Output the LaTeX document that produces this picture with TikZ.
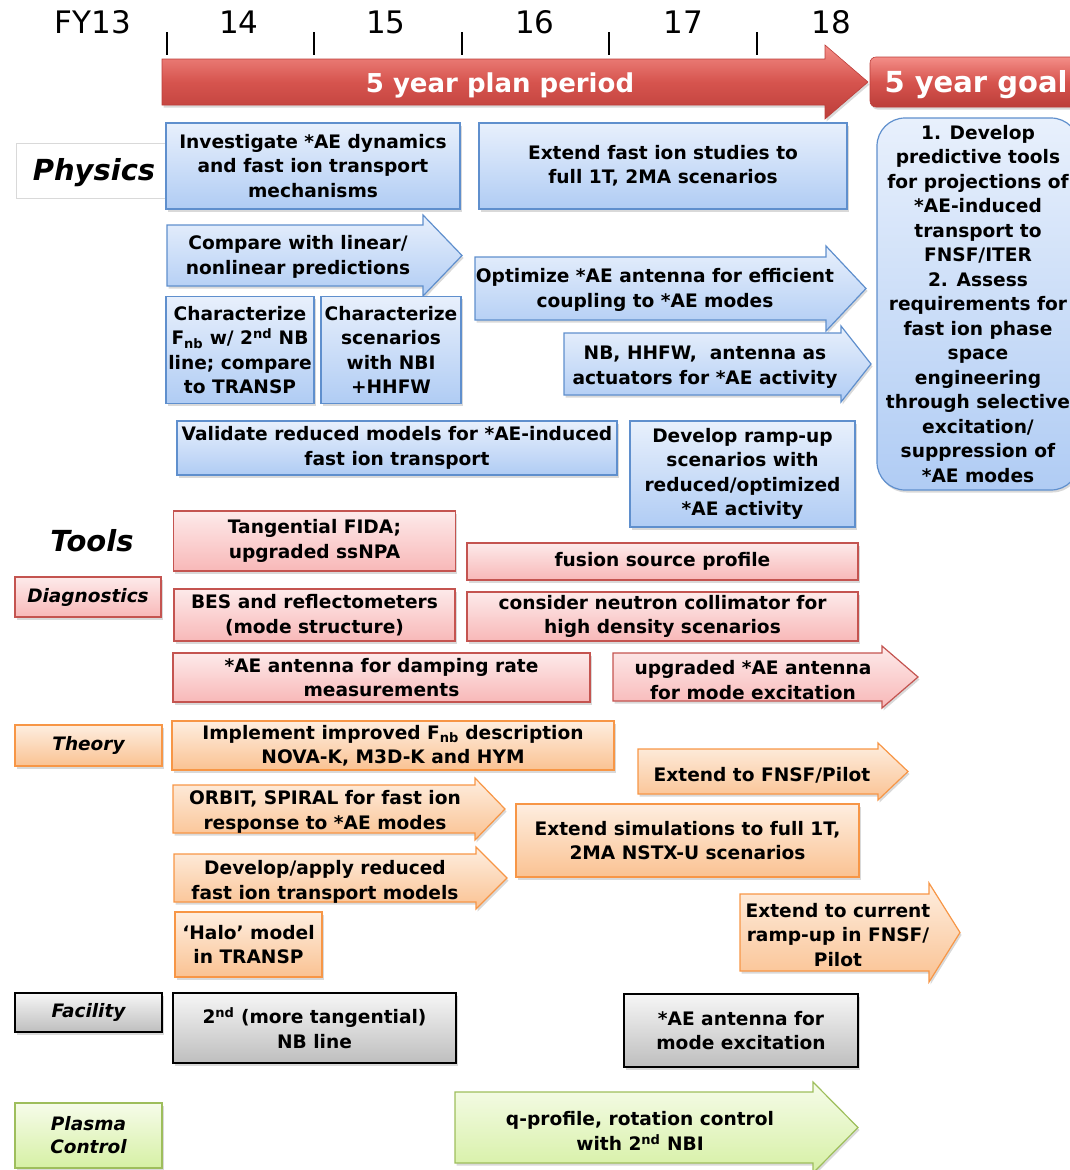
\documentclass[tikz,border=0pt]{standalone}
\usepackage{fontspec}
\setmainfont{DejaVu Sans}[ItalicFont={DejaVu Sans Oblique},BoldItalicFont={DejaVu Sans Bold Oblique}]
\usetikzlibrary{shadows}

\definecolor{physline}{RGB}{95,143,205}
\definecolor{phystop}{RGB}{232,240,252}
\definecolor{physbot}{RGB}{176,204,244}
\definecolor{diagline}{RGB}{196,84,80}
\definecolor{diagtop}{RGB}{253,234,234}
\definecolor{diagbot}{RGB}{248,184,184}
\definecolor{theoline}{RGB}{247,150,70}
\definecolor{theotop}{RGB}{254,238,224}
\definecolor{theobot}{RGB}{250,194,146}
\definecolor{factop}{RGB}{246,246,246}
\definecolor{facbot}{RGB}{190,190,190}
\definecolor{ctrlline}{RGB}{158,190,92}
\definecolor{ctrltop}{RGB}{246,252,234}
\definecolor{ctrlbot}{RGB}{214,240,164}
\definecolor{plantop}{RGB}{244,142,136}
\definecolor{planmid}{RGB}{214,84,78}
\definecolor{planbot}{RGB}{188,62,58}

\newcommand{\boxfont}{\fontsize{18.6}{24.5}\selectfont\bfseries}
\newcommand{\rowfont}{\fontsize{18.5}{23}\selectfont\bfseries\itshape}
\newcommand{\blockarrow}[7]{%
  \path[#1] (#2,#3) -- (#5,#3) -- (#5,#3-#7) -- (#6,{(#3+#4)/2}) -- (#5,#4+#7) -- (#5,#4) -- (#2,#4) -- cycle;}

\tikzset{
  card/.style={draw, line width=1.2pt, align=center, inner sep=0pt, font=\boxfont,
    drop shadow={shadow xshift=1.5pt, shadow yshift=-2.5pt, opacity=.3}},
  phys/.style={card, draw=physline, top color=phystop, bottom color=physbot},
  diag/.style={card, draw=diagline, top color=diagtop, bottom color=diagbot},
  theo/.style={card, draw=theoline, top color=theotop, bottom color=theobot},
  fac/.style={card, draw=black, top color=factop, bottom color=facbot},
  ctrl/.style={card, draw=ctrlline, top color=ctrltop, bottom color=ctrlbot},
  txt/.style={align=center, inner sep=0pt, font=\boxfont, yshift=-2pt},
  rowlabel/.style={font=\rowfont, align=center},
  yearlabel/.style={font=\fontsize{31}{34}\selectfont, inner sep=0pt},
  planbar/.style={draw=planbot, line width=.6pt, top color=plantop, bottom color=planbot, middle color=planmid,
    drop shadow={shadow xshift=1.5pt, shadow yshift=-2.5pt, opacity=.3}},
  plantext/.style={text=white, font=\fontsize{26}{30}\selectfont\bfseries, inner sep=0pt},
}

\begin{document}
\begin{tikzpicture}[x=1pt,y=-1pt]
\useasboundingbox (0,0) rectangle (1070,1170);
\clip (0,0) rectangle (1070,1170);

\node[yearlabel] (fy13) at (93,22) {FY13};
\foreach \yr/\x in {14/239,15/386,16/535,17/683,18/831}
  \node[yearlabel] (fy\yr) at (\x,22) {\yr};
\foreach \x in {167,314,462,609,757}
  \draw[line width=1.3pt] (\x,32) -- (\x,55);

\blockarrow{planbar}{162}{59}{105}{825}{868}{14}
\node[plantext] (plan) at (500,85) {5 year plan period};
\node[planbar, rounded corners=6pt, minimum width=210pt, minimum height=50pt, inner sep=0pt] (goalhead) at (975,82) {};
\node[plantext, font=\fontsize{29}{32}\selectfont\bfseries] (goaltext) at (976,85) {5 year goal};

\node[draw=black!15, line width=.8pt, minimum width=149pt, minimum height=55pt, inner sep=0pt] (physbox) at (90.5,170.5) {};
\node[font=\fontsize{29}{34}\selectfont\bfseries\itshape, inner sep=0pt] (physics) at (94,173) {Physics};
\node[font=\fontsize{29}{34}\selectfont\bfseries\itshape, inner sep=0pt] (tools) at (92,541) {Tools};

\node[phys, minimum width=294pt, minimum height=86pt] (investigate) at (313,166)
  {Investigate *AE dynamics\\and fast ion transport\\mechanisms};
\node[phys, minimum width=368pt, minimum height=86pt] (extendstudies) at (663,166)
  {Extend fast ion studies to\\full 1T, 2MA scenarios};
\blockarrow{phys}{167}{225}{286}{423}{462}{10}
\node[txt] (compare) at (298,255) {Compare with linear/\\nonlinear predictions};
\node[phys, minimum width=148pt, minimum height=107pt] (charfnb) at (240,350)
  {Characterize\\F\textsubscript{nb} w/ 2\textsuperscript{nd} NB\\line; compare\\to TRANSP};
\node[phys, minimum width=140pt, minimum height=107pt] (charscen) at (391,350)
  {Characterize\\scenarios\\with NBI\\+HHFW};
\blockarrow{phys}{475}{257}{320}{826}{866}{11}
\node[txt] (optimize) at (655,288) {Optimize *AE antenna for efficient\\coupling to *AE modes};
\blockarrow{phys}{564}{333}{395}{841}{871}{7}
\node[txt] (actuators) at (705,365) {NB, HHFW,\ \ antenna as\\actuators for *AE activity};
\node[phys, minimum width=440pt, minimum height=54pt] (validate) at (397,448)
  {Validate reduced models for *AE-induced\\fast ion transport};
\node[phys, minimum width=225pt, minimum height=106pt] (rampup) at (742.5,474)
  {Develop ramp-up\\scenarios with\\reduced/optimized\\*AE activity};
\node[phys, rounded corners=28pt, minimum width=202pt, minimum height=372pt] (goal) at (978,304)
  {1. Develop\\predictive tools\\for projections of\\*AE-induced\\transport to\\FNSF/ITER\\2. Assess\\requirements for\\fast ion phase\\space\\engineering\\through selective\\excitation/\\suppression of\\*AE modes};

\node[diag, rowlabel, minimum width=146pt, minimum height=40pt] (diagnostics) at (88,597) {Diagnostics};
\node[diag, minimum width=282pt, minimum height=60pt] (fida) at (314.5,541)
  {Tangential FIDA;\\upgraded ssNPA};
\node[diag, minimum width=391pt, minimum height=37pt] (fusion) at (662.5,561.5)
  {fusion source profile};
\node[diag, minimum width=281pt, minimum height=52pt] (bes) at (314.5,615)
  {BES and reflectometers\\(mode structure)};
\node[diag, minimum width=391pt, minimum height=49pt] (neutron) at (662.5,616.5)
  {consider neutron collimator for\\high density scenarios};
\node[diag, minimum width=417pt, minimum height=49pt] (damping) at (381.5,677.5)
  {*AE antenna for damping rate\\measurements};
\blockarrow{diag}{613}{653}{701}{882}{918}{7}
\node[txt] (upgraded) at (753,678) {upgraded *AE antenna\\for mode excitation};

\node[theo, rowlabel, minimum width=147pt, minimum height=41pt] (theory) at (88.5,745.5) {Theory};
\node[theo, minimum width=442pt, minimum height=49pt] (implement) at (393,745.5)
  {Implement improved F\textsubscript{nb} description\\NOVA-K, M3D-K and HYM};
\blockarrow{theo}{638}{749}{794}{878}{908}{6}
\node[txt] (fnsf) at (762,773) {Extend to FNSF/Pilot};
\blockarrow{theo}{173}{785}{833}{475}{505}{7}
\node[txt] (orbit) at (325,810) {ORBIT, SPIRAL for fast ion\\response to *AE modes};
\blockarrow{theo}{174}{854}{902}{476}{507}{7}
\node[txt] (reduced) at (325,880) {Develop/apply reduced\\fast ion transport models};
\node[theo, minimum width=343pt, minimum height=73pt] (simulations) at (687.5,840.5)
  {Extend simulations to full 1T,\\2MA NSTX-U scenarios};
\node[theo, minimum width=147pt, minimum height=65pt] (halo) at (248.5,944.5)
  {‘Halo’ model\\in TRANSP};
\blockarrow{theo}{740}{894}{971}{929}{960}{11}
\node[txt] (current) at (838,933) {Extend to current\\ramp-up in FNSF/\\Pilot};

\node[fac, rowlabel, minimum width=147pt, minimum height=39pt] (facility) at (88.5,1012.5) {Facility};
\node[fac, minimum width=283pt, minimum height=70pt] (secondnb) at (314.5,1028)
  {2\textsuperscript{nd} (more tangential)\\NB line};
\node[fac, minimum width=234pt, minimum height=73pt] (antenna) at (741,1030.5)
  {*AE antenna for\\mode excitation};

\node[ctrl, rowlabel, minimum width=147pt, minimum height=65pt] (plasmactrl) at (88.5,1135.5) {Plasma\\Control};
\blockarrow{ctrl}{455}{1092}{1163}{813}{858}{10}
\node[txt] (qprofile) at (640,1129) {q-profile, rotation control\\with 2\textsuperscript{nd} NBI};
\end{tikzpicture}
\end{document}
